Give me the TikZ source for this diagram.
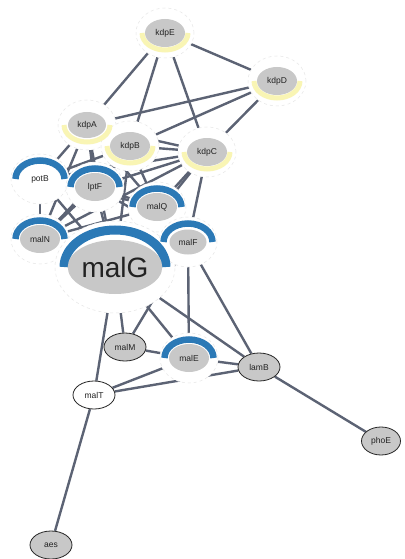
\documentclass[tikz,border=0pt]{standalone}
\usepackage{fontspec}
\setmainfont{Liberation Sans}
\usetikzlibrary{shapes.geometric}
\pgfdeclarelayer{background}
\pgfsetlayers{background,main}
\definecolor{edgec}{HTML}{5C6374}
\definecolor{grayf}{HTML}{C8C8C8}
\definecolor{bluea}{HTML}{2B79B6}
\definecolor{yellowa}{HTML}{F9F5B4}
\definecolor{halob}{HTML}{E6E6E6}
\definecolor{txt}{HTML}{222222}
\tikzset{
  halo/.style={ellipse, fill=white, draw=halob, dashed, line width=0.5pt, inner sep=0pt, minimum width=58pt, minimum height=50pt},
  bighalo/.style={halo, minimum width=120pt, minimum height=92pt},
  genein/.style={ellipse, fill=grayf, inner sep=0pt, minimum width=40pt, minimum height=28pt, text=txt, font=\fontsize{8.5}{10}\selectfont},
  geneout/.style={ellipse, fill=grayf, draw=black!85, line width=0.8pt, inner sep=0pt, minimum width=42pt, minimum height=28pt, text=txt, font=\fontsize{8.5}{10}\selectfont},
  link/.style={draw=edgec, line width=2.4pt},
  bluearc/.style={draw=bluea, line width=6.5pt},
  yelarc/.style={draw=yellowa, line width=5pt},
}
\newcommand{\bluecap}[1]{\draw[bluearc] ([xshift=-24.5pt]#1.center) arc[start angle=180,end angle=360,x radius=24.5,y radius=18.5];}
\newcommand{\yelcap}[1]{\draw[yelarc] ([xshift=-23pt]#1.center) arc[start angle=180,end angle=0,x radius=23,y radius=17];}
\begin{document}
\begin{tikzpicture}[x=1pt,y=-1pt]
\begin{pgfonlayer}{background}
\fill[white] (0,0) rectangle (404,559);
\end{pgfonlayer}
\useasboundingbox (0,0) rectangle (404,559);
% halos
\node[halo] (kdpE) at (165,33) {};
\node[halo] (kdpD) at (277,81) {};
\node[halo] (kdpA) at (87,125) {};
\node[halo] (kdpC) at (207,152) {};
\node[halo] (kdpB) at (130,146) {};
\node[halo] (potB) at (40,179) {};
\node[halo] (malN) at (40,239) {};
\node[halo] (malQ) at (157,207) {};
\node[bighalo] (malG) at (115,267) {};
\node[halo] (lptF) at (95,187) {};
\node[halo] (malF) at (188,242) {};
\node[halo] (malE) at (189,358) {};
% plain nodes
\node[geneout] (malM) at (125,347) {malM};
\node[geneout] (lamB) at (259,367) {lamB};
\node[geneout, fill=white] (malT) at (94,395) {malT};
\node[geneout, minimum width=39pt] (phoE) at (381,441) {phoE};
\node[geneout] (aes) at (51,545) {aes};
% arcs
\yelcap{kdpE}\yelcap{kdpD}\yelcap{kdpA}\yelcap{kdpC}\yelcap{kdpB}
\bluecap{potB}\bluecap{malN}\bluecap{malQ}\bluecap{lptF}\bluecap{malF}\bluecap{malE}
\draw[draw=bluea, line width=9pt] ([xshift=-51pt]malG.center) arc[start angle=180,end angle=360,x radius=51,y radius=37];
% inner labels
\node[genein] (kdpE-l) at (kdpE) {kdpE};
\node[genein] (kdpD-l) at (kdpD) {kdpD};
\node[genein, minimum width=38pt, minimum height=26pt] (kdpA-l) at (kdpA) {kdpA};
\node[genein] (kdpC-l) at (kdpC) {kdpC};
\node[genein] (kdpB-l) at (kdpB) {kdpB};
\node[genein, fill=white] (potB-l) at (potB) {potB};
\node[genein] (malN-l) at (malN) {malN};
\node[genein] (malQ-l) at (malQ) {malQ};
\node[genein] (lptF-l) at (lptF) {lptF};
\node[genein, minimum width=37pt, minimum height=25pt] (malF-l) at (malF) {malF};
\node[genein] (malE-l) at (malE) {malE};
\node[genein, minimum width=76pt, minimum height=54pt, font=\fontsize{28}{30}\selectfont] (malG-l) at (malG) {malG};
% edges
\begin{pgfonlayer}{background}
\foreach \a/\b in {kdpE/kdpA,kdpE/kdpB,kdpE/kdpC,kdpE/kdpD,
  kdpD/kdpA,kdpD/kdpB,kdpD/kdpC,
  kdpA/kdpC,kdpA/potB,kdpA/lptF,kdpA/malN,kdpA/malQ,kdpA/malG,
  kdpB/kdpC,kdpB/potB,kdpB/lptF,kdpB/malN,kdpB/malQ,kdpB/malG,
  kdpC/potB,kdpC/lptF,kdpC/malN,kdpC/malQ,kdpC/malG,kdpC/malF,
  potB/malN,potB/malG,potB/malQ,
  lptF/malN,lptF/malG,lptF/malQ,lptF/malF,
  malN/malG,malN/malQ,malN/malF,
  malQ/malG,
  malG/malF,malG/malM,malG/malT,malG/malE,malG/lamB,
  malF/malM,malF/malE,malF/lamB,
  malM/malE,malE/lamB,malE/malT,
  lamB/malT,lamB/phoE,malT/aes}
  \draw[link] (\a) -- (\b);
\end{pgfonlayer}
\end{tikzpicture}
\end{document}
